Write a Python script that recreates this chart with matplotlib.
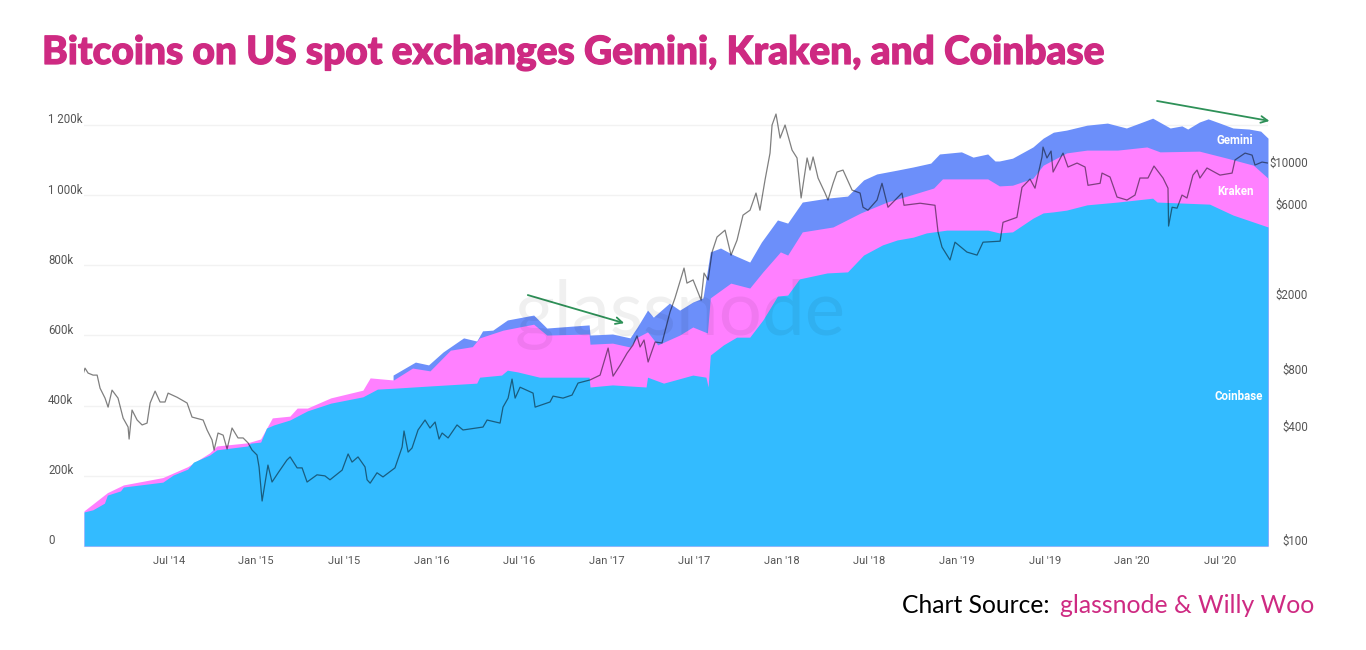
import matplotlib
matplotlib.use('Agg')
import matplotlib.pyplot as plt
import matplotlib.patheffects as pe

# x values are months since Jan 2014, totals are stacked BTC in thousands
coinbase_x = [0.2, 0.8, 1.6, 1.8, 2.7, 2.9, 5.6, 6.3, 7.3, 7.7, 8.8, 9.3, 11.4, 11.6, 12.3, 12.7, 13.2, 14.3, 15.5, 17.1,
              19.3, 20.3, 21.6, 23.9, 27.1, 27.3, 28.8, 29.2, 29.9, 31.4, 34.8, 34.86, 36.4, 38.7, 38.8, 39.9, 41.9, 42.8,
              42.95, 43.1, 44.0, 44.9, 45.8, 46.7, 47.7, 48.4, 49.2, 51.1, 52.5, 53.6, 54.9, 55.9, 57, 57.9, 59.3, 62.1, 62.9, 63.8,
              65.2, 65.9, 66.6, 67.5, 68.9, 71.0, 73.4, 73.7, 77.3, 78.9, 81.3]
coinbase_total = [97, 103, 122, 145, 157, 168, 182, 202, 219, 239, 259, 274, 285, 293, 296, 336, 345, 359, 385, 407,
                  425, 447, 450, 456, 464, 481, 487, 501, 496, 481, 481, 453, 459, 453, 481, 464, 487, 481,
                  453, 544, 573, 595, 595, 644, 712, 715, 761, 778, 781, 829, 858, 872, 880, 892, 900, 900, 892, 895,
                  934, 949, 952, 957, 972, 980, 991, 980, 974, 943, 909]

kraken_x = [0.2, 1.8, 2.9, 5.6, 7.3, 8.8, 9.3, 11.4, 12.3, 13.1, 14.3, 14.8, 15.5, 17.1, 19.3, 19.8, 21.4, 22.7, 23.9,
            25.3, 26.8, 27.3, 28.9, 31, 31.9, 34.8, 34.86, 36.4, 37.6, 38.1, 38.8, 39.5, 41, 41.9, 42.9, 43.1, 44.5,
            45.8, 46.7, 47.9, 48.4, 49.4, 51.5, 53.4, 55.2, 56.1, 57.3, 58.4, 59, 62.1, 62.9, 63.8, 65.2, 65.9, 67.5, 68.9, 71, 73, 73.9, 76.6,
            78.5, 80.3, 81.3]
kraken_total = [100, 152, 174, 195, 226, 265, 285, 294, 305, 365, 370, 393, 393, 422, 444, 479, 473, 507, 499,
                558, 568, 593, 615, 632, 601, 604, 575, 578, 567, 595, 610, 573, 601, 624, 607, 707, 749,
                735, 781, 838, 829, 895, 909, 949, 980, 991, 1006, 1020, 1046, 1046, 1026, 1028, 1048, 1085, 1120, 1128, 1128, 1137, 1123, 1125,
                1105, 1085, 1048]

gemini_x = [21.37, 22.9, 23.8, 24.8, 26.2, 27.1, 27.5, 28.2, 29.2, 31, 31.9, 34.8, 34.86, 36.4, 37.6, 38.1, 38.8, 39.2,
            40.3, 41, 41.9, 42.6, 43.1, 43.8, 44.7, 45.8, 46.6, 47.7, 48.4, 49.4, 51.1, 52.5, 53.6, 54.5, 55.9, 57, 58.2, 58.8,
            60.3, 61.1, 62.1, 62.6, 62.9, 63.8, 65.2, 65.9, 66.6, 67.5, 68.9, 70.3, 71.6, 72.7, 73.4, 74.6, 75.4, 75.8, 76.6, 77.2, 78, 78.9, 80, 80.8, 81.3]
gemini_total = [487, 524, 516, 553, 593, 584, 613, 615, 644, 658, 621, 630, 601, 604, 593, 624, 672, 652,
                692, 672, 695, 707, 838, 849, 829, 809, 866, 929, 920, 980, 991, 997, 1043, 1060, 1071, 1080, 1091, 1117,
                1123, 1108, 1117, 1097, 1097, 1105, 1137, 1162, 1179, 1185, 1199, 1205, 1191, 1208, 1219, 1191, 1197, 1188, 1208, 1217, 1205, 1191, 1188, 1182, 1162]

price_x = [0.16, 0.27, 0.48, 0.82, 1.1, 1.3, 1.64, 1.85, 2.12, 2.53, 2.88, 3.22, 3.29, 3.49, 3.84, 4.18, 4.52, 4.73, 5.07,
           5.41, 5.75, 5.96, 6.58, 7.26, 7.6, 8.36, 8.63, 8.97, 9.11, 9.38, 9.73, 10, 10.34, 10.75, 11.1, 11.44, 11.71,
           12.05, 12.19, 12.4, 12.6, 12.8, 13.08, 13.5, 14.1, 14.32, 14.8, 15.14, 15.48, 16.16, 16.7, 17.05, 17.88,
           18.29, 18.56, 18.97, 19.45, 19.59, 19.8, 20.27, 20.68, 21.5, 21.99, 22.12, 22.4, 22.67, 23.08, 23.56, 23.9,
           24.25, 24.52, 24.73, 25.14, 25.75, 26.16, 27.53, 27.81, 28.7, 28.9, 29.25, 29.52, 29.73, 30.07, 30.96, 31.1,
           32.12, 32.33, 33.01, 33.63, 34.04, 34.86, 35.55, 36.1, 36.44, 36.92, 37.4, 37.8, 38.08, 38.29, 38.56, 38.84,
           39.32, 39.79, 40.34, 40.68, 41.3, 41.5, 41.92, 42.47, 42.67, 42.95, 43.22, 43.56, 44.11, 44.52, 44.93, 45.34,
           45.82, 46.23, 46.5, 46.85, 47.19, 47.33, 47.6, 47.88, 48.22, 48.7, 49.04, 49.32, 49.73, 49.93, 50.14, 50.48,
           50.96, 51.16, 51.51, 51.78, 52.19, 52.81, 53.36, 53.56, 53.9, 54.52, 54.86, 55.27, 55.89, 56.23, 56.37, 57.47,
           58.49, 58.7, 58.97, 59.52, 59.86, 60.68, 61.37, 61.78, 62.95, 63.15, 64.1, 64.45, 65, 65.34, 65.82, 65.89,
           66.16, 66.44, 66.58, 67.26, 67.6, 68.22, 68.77, 68.97, 69.8, 69.93, 70.48, 70.96, 71.64, 72.19, 72.53, 73.08,
           73.49, 74.11, 74.45, 74.49, 74.73, 75.07, 75.41, 75.75, 76.16, 76.44, 76.64, 77.12, 78.01, 78.84, 79.04, 79.73,
           80.21, 80.41, 80.89, 81.3]
price = [822, 873, 822, 802, 802, 684, 606, 543, 668, 606, 475, 426, 368, 524, 464, 437, 447, 571, 660,
         578, 578, 644, 612, 571, 481, 464, 411, 364, 322, 396, 386, 326, 421, 373, 373, 351, 322,
         303, 262, 173, 215, 268, 218, 244, 285, 296, 259, 259, 218, 238, 235, 224, 252,
         307, 278, 296, 262, 224, 215, 244, 232, 259, 334, 406, 314, 330, 411, 464, 421,
         453, 368, 396, 373, 437, 411, 426, 464, 447, 543, 606, 764, 606, 692, 644, 543,
         578, 621, 606, 629, 728, 756, 802, 1115, 792, 904, 1048, 1156, 1293, 1130, 1230, 941,
         1200, 1186, 1730, 2050, 2955, 2460, 2557, 2000, 2780, 2557, 3590, 4313, 4690, 3460, 4150, 5630,
         5980, 7370, 5980, 8660, 11990, 16880, 19300, 14400, 16880, 12440, 11300, 6940, 11300, 9750, 11440, 8850,
         7370, 6770, 8300, 9520, 9750, 7640, 7370, 6200, 5980, 6770, 8300, 6200, 6940, 7370, 6350, 6510,
         6350, 4580, 3815, 3260, 4050, 3590, 3460, 4050, 4100, 5160, 5480, 7900, 8740, 7820, 11440, 12900,
         11300, 12290, 9520, 11990, 10120, 10620, 10120, 8100, 8300, 9400, 8960, 7020, 6770, 7190, 8850, 8850,
         10240, 8850, 7820, 4930, 6200, 6130, 7190, 6940, 9170, 9750, 8850, 10000, 9170, 9400, 11030, 11990,
         11700, 10370, 10750, 10620]

month_ticks = [6, 12, 18, 24, 30, 36, 42, 48, 54, 60, 66, 72, 78]
month_labels = ["Jul '14", "Jan '15", "Jul '15", "Jan '16", "Jul '16", "Jan '17", "Jul '17", "Jan '18", "Jul '18",
                "Jan '19", "Jul '19", "Jan '20", "Jul '20"]
left_ticks = [0, 200, 400, 600, 800, 1000, 1200]
left_labels = ['0', '200k', '400k', '600k', '800k', '1 000k', '1 200k']
right_ticks = [100, 400, 800, 2000, 6000, 10000]
right_labels = ['$100', '$400', '$800', '$2000', '$6000', '$10000']

plt.rcParams['font.family'] = ['Roboto', 'DejaVu Sans']
pink = '#CE2A82'
label_color = '#555555'

W, H = 1366, 650
fig = plt.figure(figsize=(W / 100, H / 100), dpi=100)
ax = fig.add_axes([84 / W, 1 - 546 / H, 1184 / W, 451 / H])

# stacked totals painted from the tallest down
ax.fill_between(gemini_x, gemini_total, color='#6C8FFA', linewidth=0, zorder=2)
ax.fill_between(kraken_x, kraken_total, color='#FF80FF', linewidth=0, zorder=3)
ax.fill_between(coinbase_x, coinbase_total, color='#33BBFF', linewidth=0, zorder=4)

ax.set_xlim(0.2, 81.3)
ax.set_ylim(0, 1285)
ax.set_xticks(month_ticks)
ax.set_xticklabels(month_labels, fontsize=8, color=label_color)
ax.tick_params(axis='x', length=0, pad=7)
ax.set_yticks(left_ticks)
ax.set_yticklabels([])
ax.tick_params(axis='y', length=0)
ax.grid(axis='y', color='#F2F2F2', linewidth=1, zorder=0)
ax.set_axisbelow(True)
for side in ['top', 'left', 'right']:
    ax.spines[side].set_visible(False)
ax.spines['bottom'].set_color('#D5E3EE')

for v, lab in zip(left_ticks, left_labels):
    ax.annotate(lab, (0, v), xycoords=('axes fraction', 'data'), xytext=(-36 * 0.72, 5 * 0.72),
                textcoords='offset points', fontsize=8.3, color=label_color, ha='left', va='center')

# price on a log axis
ax2 = ax.twinx()
ax2.set_yscale('log')
ax2.set_ylim(100, 100 * 10 ** (451 / 189))
ax2.plot(price_x, price, color='black', alpha=0.5, linewidth=0.9, zorder=5)
ax2.set_yticks([])
ax2.minorticks_off()
for side in ['top', 'left', 'right', 'bottom']:
    ax2.spines[side].set_visible(False)
for v, lab in zip(right_ticks, right_labels):
    ax2.annotate(lab, (1, v), xycoords=('axes fraction', 'data'), xytext=(40 * 0.72, 5 * 0.72),
                 textcoords='offset points', fontsize=8.3, color=label_color, ha='right', va='center')

# series names
ax.text(79.05, 1154, 'Gemini', color='white', fontsize=8.3, fontweight='bold', ha='center', va='center', zorder=6)
ax.text(79.05, 1011, 'Kraken', color='white', fontsize=8.3, fontweight='bold', ha='center', va='center', zorder=6)
ax.text(79.3, 427, 'Coinbase', color='white', fontsize=8.3, fontweight='bold', ha='center', va='center', zorder=6)

# green arrows
arrow = dict(arrowstyle='->', color='#2E9158', linewidth=1.3, mutation_scale=12, shrinkA=0, shrinkB=0)
ax.annotate('', xy=(37.2, 635), xytext=(30.6, 715), arrowprops=arrow, zorder=7)
ax.annotate('', xy=(81.4, 1211), xytext=(73.7, 1268), arrowprops=arrow, annotation_clip=False, zorder=7)

# watermark
fig.text(680 / W, 1 - 314 / H, 'glassnode', fontfamily='Lato', fontsize=55, color='black', alpha=0.06,
         ha='center', va='center', zorder=6)

title = fig.text(42 / W, 1 - 64 / H, 'Bitcoins on US spot exchanges Gemini, Kraken, and Coinbase', fontfamily='Lato',
                 fontweight='black', fontsize=28, color=pink, ha='left', va='baseline')
title.set_path_effects([pe.withStroke(linewidth=0.9, foreground=pink)])
fig.text(902 / W, 1 - 613 / H, 'Chart Source:', fontfamily='Lato', fontsize=17.7, color='black', ha='left', va='baseline')
fig.text(1060 / W, 1 - 613 / H, 'glassnode & Willy Woo', fontfamily='Lato', fontsize=17.8, color=pink, ha='left', va='baseline')

fig.savefig('out.png', dpi=100)
